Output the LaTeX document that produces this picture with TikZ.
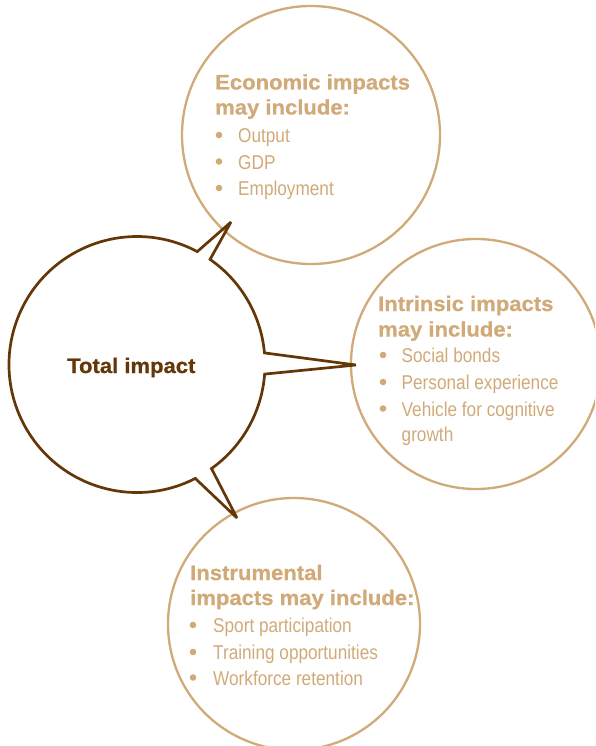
\documentclass[tikz,border=0pt]{standalone}
\usepackage{fontspec}
\setmainfont{Liberation Sans}
\newfontfamily\headfont[FakeStretch=1.05, FakeBold=0.8]{Liberation Sans}
\newfontfamily\listfont[FakeStretch=0.86]{Liberation Sans}
\usetikzlibrary{calc}

\definecolor{impacttan}{RGB}{208,170,120}
\definecolor{impactbrown}{RGB}{100,55,8}

\tikzset{
  bubble/.style={draw=impacttan, line width=2.3},
  totalline/.style={draw=impactbrown, line width=2.7, line join=miter, miter limit=2},
  headtext/.style={anchor=base west, inner sep=0pt, text=impacttan,
    font=\headfont\bfseries\fontsize{21}{25}\selectfont},
  itemtext/.style={anchor=base west, inner sep=0pt, text=impacttan,
    font=\listfont\fontsize{20}{26}\selectfont},
  dot/.style={fill=impacttan}
}

\begin{document}
\begin{tikzpicture}[x=1pt, y=-1pt]
  \clip (0,0) rectangle (595,746);

  % the three outer bubbles
  \draw[bubble] (311,135) circle[radius=129];
  \draw[bubble] (476,364) circle[radius=125];
  \draw[bubble] (294,624) circle[radius=126];

  % total impact bubble with its three pointers
  \coordinate (tot) at (137,364.5);
  \coordinate (tipT) at (231,222);
  \coordinate (tipR) at (356,365);
  \coordinate (tipB) at (237,518);
  \draw[totalline] (tot) ++(-55.2:128) arc[start angle=-55.2, end angle=-5.2, radius=128]
    -- (tipR) -- ($(tot)+(4.3:128)$) arc[start angle=4.3, end angle=54.4, radius=128]
    -- (tipB) -- ($(tot)+(62.9:128)$) arc[start angle=62.9, end angle=298.1, radius=128]
    -- (tipT) -- cycle;

  \node[headtext, text=impactbrown] (total) at (67,373) {Total impact};

  % economic
  \node[headtext] (eco-h1) at (215,89.5) {Economic impacts};
  \node[headtext] (eco-h2) at (215,114.5) {may include:};
  \foreach \txt/\yy [count=\i] in {Output/142.5, GDP/169, Employment/195.5}{
    \fill[dot] (219,\yy-7.5) circle[radius=3.3];
    \node[itemtext] (eco-\i) at (238,\yy) {\txt};
  }

  % intrinsic
  \node[headtext] (intr-h1) at (378,311) {Intrinsic impacts};
  \node[headtext] (intr-h2) at (378,336.5) {may include:};
  \foreach \txt/\yy [count=\i] in {Social bonds/362.5, Personal experience/389.5, Vehicle for cognitive/416}{
    \fill[dot] (383,\yy-7.5) circle[radius=3.3];
    \node[itemtext] (intr-\i) at (401.5,\yy) {\txt};
  }
  \node[itemtext] (intr-4) at (401.5,441.5) {growth};

  % instrumental
  \node[headtext] (inst-h1) at (190,580) {Instrumental};
  \node[headtext] (inst-h2) at (190,605) {impacts may include:};
  \foreach \txt/\yy [count=\i] in {Sport participation/632.5, Training opportunities/659.5, Workforce retention/685}{
    \fill[dot] (193,\yy-7.5) circle[radius=3.3];
    \node[itemtext] (inst-\i) at (213,\yy) {\txt};
  }
\end{tikzpicture}
\end{document}
